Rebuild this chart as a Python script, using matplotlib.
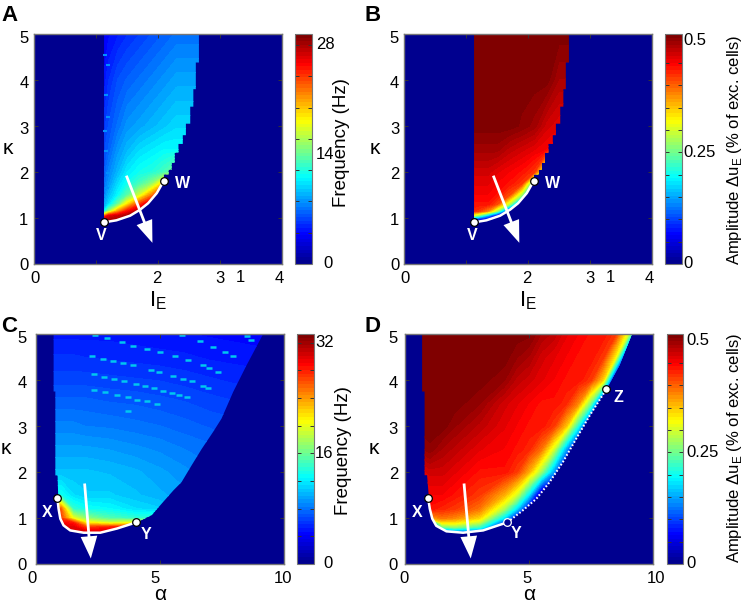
#!/usr/bin/env python3
import numpy as np
import matplotlib
matplotlib.use("Agg")
import matplotlib.pyplot as plt
from matplotlib.cm import ScalarMappable
from matplotlib.colors import LinearSegmentedColormap, Normalize
from matplotlib.patches import Polygon
from matplotlib.transforms import ScaledTranslation

plt.rcParams["font.family"] = ["Liberation Sans", "DejaVu Sans"]
plt.rcParams["mathtext.fontset"] = "custom"
plt.rcParams["mathtext.rm"] = "Liberation Sans"

W, H = 746, 604
NAVY = "#00008F"

# ---- panels A, B: grid of I_E and kappa
ab_I = [1.1, 1.2, 1.35, 1.5, 1.7, 1.9, 2.1, 2.3, 2.5, 2.7]
ab_k = [0.85, 0.95, 1.05, 1.15, 1.3, 1.5, 1.75, 2, 2.5, 3, 4, 5]

freq_a = [
    [28, 28, 28, 28, 28, 28, 28, 28, 28, 28],
    [28, 28, 28, 28, 28, 28, 28, 28, 28, 28],
    [20, 26, 27, 28, 28, 28, 28, 28, 28, 28],
    [9, 15, 21, 25, 28, 28, 28, 28, 28, 28],
    [8, 10, 14, 19, 24, 28, 28, 28, 28, 28],
    [7, 9, 11, 13.5, 17, 22, 27, 28, 28, 28],
    [6.5, 8, 10, 11.5, 13, 15, 20, 26, 28, 28],
    [6, 7.5, 9, 10.5, 11.5, 12, 13, 15, 18, 18],
    [5.5, 6.5, 8, 9, 10, 10.5, 11, 11, 11, 11],
    [5, 6, 7, 8, 8.5, 9, 9.5, 10, 10, 10],
    [4, 5, 6, 6.5, 7, 7.5, 8, 8.5, 8.5, 8.5],
    [3.5, 4, 4.5, 5, 5.5, 6, 6.5, 7, 7, 7],
]
amp_b = [
    [0, 0, 0, 0, 0, 0, 0, 0, 0, 0],
    [.05, .02, 0, 0, 0, 0, 0, 0, 0, 0],
    [.30, .25, .15, .03, 0, 0, 0, 0, 0, 0],
    [.43, .42, .38, .27, .03, 0, 0, 0, 0, 0],
    [.44, .44, .44, .41, .28, .05, 0, 0, 0, 0],
    [.45, .45, .45, .44, .41, .27, .02, 0, 0, 0],
    [.46, .46, .46, .45, .44, .42, .20, 0, 0, 0],
    [.47, .47, .47, .46, .45, .44, .42, .25, .2, .2],
    [.495, .495, .495, .495, .48, .47, .46, .45, .44, .44],
    [.512, .512, .512, .512, .512, .505, .495, .47, .46, .46],
    [.512, .512, .512, .512, .512, .512, .512, .512, .49, .49],
    [.512, .512, .512, .512, .512, .512, .512, .512, .512, .512],
]

# left edge, lower curve V-W, right stairs
ab_left = 1.13
vw_I = [1.13, 1.33, 1.55, 1.71, 1.84, 1.98, 2.09]
vw_k = [0.905, 0.95, 1.05, 1.18, 1.32, 1.54, 1.80]
step_I = [2.17, 2.22, 2.27, 2.33, 2.40, 2.45, 2.52, 2.57, 2.61, 2.66]
step_k = [2.05, 2.20, 2.42, 2.61, 2.80, 3.05, 3.42, 3.80, 4.38, 5.00]

speck_a_I = [1.15, 1.2, 1.16, 1.2, 1.15, 1.16, 1.2, 1.17]
speck_a_k = [4.54, 4.33, 3.68, 3.2, 2.9, 2.45, 1.98, 1.66]

# ---- panels C, D: grid of alpha and kappa
c_a = [0.6, 1, 1.5, 2, 3, 4, 5, 6, 7, 8, 9, 9.5]
cd_k = [0.6, 0.7, 0.8, 0.9, 1, 1.2, 1.5, 2, 2.5, 3, 3.5, 4, 4.5, 5]
d_a = [0.6, 1, 1.5, 2, 3, 4, 4.5, 5, 5.5, 6, 6.5, 7, 7.5, 8, 8.5, 9, 9.5]

freq_c = [
    [30, 30, 30, 31, 31, 30, 28, 20, 12, 10, 9, 9],
    [30, 30, 30, 30, 30, 30, 28, 20, 12, 10, 9, 9],
    [30, 30, 30, 27, 28, 28, 28, 18, 12, 10, 9, 9],
    [29, 29, 28, 21, 19, 20, 20, 14, 11, 10, 9, 9],
    [27, 27, 20, 17, 15, 14, 14, 11, 10, 9, 9, 9],
    [26, 26, 14, 13, 12.5, 11.5, 11, 10, 9, 9, 8, 8],
    [13, 13, 11.5, 11, 11, 10.5, 10, 9.5, 9, 8.5, 8, 8],
    [10.5, 10.5, 10.5, 10.5, 10.3, 10, 9.5, 9, 8.5, 8, 8, 8],
    [9.5, 9.5, 9.5, 9.5, 9.3, 9, 8.7, 8.3, 8, 7.5, 7.5, 7.5],
    [8.5, 8.5, 8.5, 8.3, 8.2, 8, 7.8, 7.5, 7.2, 7, 7, 7],
    [7.5, 7.5, 7.5, 7.5, 7.3, 7.2, 7, 6.8, 6.5, 6.3, 6.3, 6.3],
    [6.5, 6.5, 6.5, 6.5, 6.4, 6.3, 6.2, 6, 5.8, 5.6, 5.5, 5.5],
    [5.8, 5.8, 5.8, 5.7, 5.6, 5.5, 5.4, 5.3, 5.1, 5, 4.9, 4.9],
    [5, 5, 5, 5, 5, 4.9, 4.8, 4.7, 4.6, 4.5, 4.4, 4.4],
]
amp_d = [
    [.02, .02, .02, .02, .02, 0, 0, 0, 0, 0, 0, 0, 0, 0, 0, 0, 0],
    [0, 0, .08, .12, .10, 0, 0, 0, 0, 0, 0, 0, 0, 0, 0, 0, 0],
    [0, 0, .24, .26, .22, .03, 0, 0, 0, 0, 0, 0, 0, 0, 0, 0, 0],
    [0, .15, .33, .33, .29, .10, 0, 0, 0, 0, 0, 0, 0, 0, 0, 0, 0],
    [0, .36, .39, .38, .34, .18, .05, 0, 0, 0, 0, 0, 0, 0, 0, 0, 0],
    [.44, .44, .43, .42, .39, .28, .18, .04, 0, 0, 0, 0, 0, 0, 0, 0, 0],
    [.45, .45, .45, .44, .42, .36, .30, .18, 0, 0, 0, 0, 0, 0, 0, 0, 0],
    [.46, .47, .47, .46, .44, .44, .42, .36, .27, .14, 0, 0, 0, 0, 0, 0, 0],
    [.495, .505, .49, .48, .46, .45, .44, .43, .39, .30, .15, 0, 0, 0, 0, 0, 0],
    [.512, .512, .512, .50, .48, .46, .45, .44, .44, .42, .35, .20, 0, 0, 0, 0, 0],
    [.512, .512, .512, .512, .50, .47, .46, .45, .44, .44, .43, .38, .25, 0, 0, 0, 0],
    [.512, .512, .512, .512, .512, .50, .48, .47, .46, .45, .44, .44, .42, .34, 0, 0, 0],
    [.512, .512, .512, .512, .512, .512, .50, .49, .47, .46, .45, .44, .44, .42, .32, 0, 0],
    [.512, .512, .512, .512, .512, .512, .512, .51, .49, .48, .46, .45, .44, .44, .42, .30, .10],
]

c_edge_a = [0.71, 0.71, 0.78, 0.78, 0.87, 0.91, 0.98, 1.11, 1.38, 1.92, 2.59, 3.26, 4.05,
            4.66, 5.13, 5.54, 5.87, 6.27, 6.68, 7.14, 7.48, 7.95, 8.49, 9.16]
c_edge_k = [5.00, 3.75, 3.75, 1.93, 1.93, 1.20, 0.985, 0.84, 0.73, 0.68, 0.68, 0.77, 0.906,
            1.06, 1.35, 1.60, 1.78, 2.14, 2.50, 2.87, 3.16, 3.74, 4.32, 5.00]
d_edge_a = [0.69, 0.69, 0.79, 0.79, 0.89, 1.00, 1.10, 1.26, 1.67, 2.34, 3.15, 4.13,
            4.76, 5.30, 5.83, 6.37, 6.90, 7.45, 8.12, 8.65, 9.15]
d_edge_k = [5.00, 3.75, 3.75, 1.93, 1.93, 1.20, 0.985, 0.83, 0.71, 0.68, 0.73, 0.906,
            1.17, 1.42, 1.78, 2.22, 2.72, 3.23, 3.80, 4.32, 5.00]

xy_c_a = [0.86, 0.91, 0.98, 1.11, 1.38, 1.92, 2.59, 3.26, 4.05]
xy_c_k = [1.44, 1.20, 0.985, 0.84, 0.73, 0.68, 0.68, 0.77, 0.906]
xy_d_a = [0.93, 1.00, 1.10, 1.26, 1.67, 2.34, 3.15, 4.13]
xy_d_k = [1.44, 1.20, 0.985, 0.83, 0.71, 0.68, 0.73, 0.906]
yz_d_a = [4.13, 4.76, 5.30, 5.83, 6.37, 6.90, 7.45, 8.12]
yz_d_k = [0.906, 1.17, 1.42, 1.78, 2.22, 2.72, 3.23, 3.80]

speck_c_a = [2.39, 2.86, 3.46, 3.93, 4.46, 5.0, 5.6, 6.14, 6.74, 6.98, 7.35,
             5.87, 6.61, 7.14, 7.61, 7.95, 8.49, 8.65,
             2.25, 2.72, 3.1, 3.5, 3.93, 4.62, 4.97, 5.54, 5.94, 6.31, 6.74, 6.94,
             2.32, 2.75, 3.15, 3.55, 4.03, 4.4, 4.77, 5.11, 5.5, 5.78, 6.07,
             2.32, 2.79, 3.26, 3.69, 4.09, 4.46, 4.89, 3.69]
speck_c_k = [4.97, 4.91, 4.83, 4.75, 4.67, 4.61, 4.52, 4.43, 4.33, 4.27, 4.17,
             4.97, 4.84, 4.72, 4.61, 4.52, 4.95, 4.86,
             4.52, 4.46, 4.42, 4.36, 4.32, 4.21, 4.17, 4.09, 4.03, 3.98, 3.88, 3.83,
             4.12, 4.06, 4.03, 3.97, 3.92, 3.87, 3.83, 3.77, 3.72, 3.68, 3.63,
             3.78, 3.73, 3.67, 3.63, 3.57, 3.54, 3.47, 3.33]

# colorbars
cbar_max = [29.4, 0.515, 33.25, 0.515]
cbar_ticks = [list(range(4, 29, 4)), [.05, .10, .15, .20, .25, .30, .35, .40, .45],
              list(range(4, 33, 4)), [.05, .10, .15, .20, .25, .30, .35, .40, .45]]
cbar_labels = [["0", "14", "28"], ["0", "0.25", "0.5"], ["0", "16", "32"], ["0", "0.25", "0.5"]]
cbar_label_pos = [[0, 14, 28], [0, .25, .5], [0, 16, 32], [0, .25, .5]]
cbar_label_gap = [[11, 4, 4], [1, 1, 1], [9, 1, 1], [3, 3, 3]]
cbar_titles = ["Frequency (Hz)", "Amplitude Δu$_{\\mathrm{E}}$ (% of exc. cells)"]

jet64 = LinearSegmentedColormap.from_list(
    "jet64",
    [(0, (0, 0, .5625)), (1 / 8, (0, 0, 1)), (3 / 8, (0, 1, 1)),
     (5 / 8, (1, 1, 0)), (7 / 8, (1, 0, 0)), (1, (.5, 0, 0))],
    N=64,
)


def axes_px(fig, x0, y0, x1, y1):
    return fig.add_axes([x0 / W, 1 - y1 / H, (x1 - x0) / W, (y1 - y0) / H])


def stair_edge():
    xs, ks = [vw_I[-1]], [vw_k[-1]]
    k_prev = 1.95
    xs.append(vw_I[-1]); ks.append(k_prev)
    for x, k in zip(step_I, step_k):
        xs += [x, x]
        ks += [k_prev, k]
        k_prev = k
    return xs, ks


def draw_map(ax, x, y, z, vmax, edge):
    ax.set_facecolor(NAVY)
    levels = np.linspace(0, vmax, 65)
    cs = ax.contourf(x, y, z, levels=levels, cmap=jet64, extend="both")
    clip = Polygon(edge, closed=True, transform=ax.transData, fc="none", ec="none")
    ax.add_patch(clip)
    cs.set_clip_path(clip)


def style_axes(ax, fig, xlim, xticks, xticklabels, xshift, pad):
    ax.set_xlim(*xlim)
    ax.set_ylim(0, 5)
    ax.set_xticks(xticks)
    ax.set_xticklabels(xticklabels)
    ax.set_yticks(range(6))
    ax.tick_params(direction="in", length=3, width=0.7, color="#333333", labelsize=12,
                   top=True, right=True)
    ax.tick_params(axis="x", pad=5)
    ax.tick_params(axis="y", pad=pad)
    for s in ax.spines.values():
        s.set_color("#777777")
        s.set_linewidth(1.0)
    # hand placed labels in the original sit a little off their ticks
    for lab, dx in zip(ax.get_xticklabels(), xshift):
        lab.set_transform(lab.get_transform() + ScaledTranslation(dx / 100, 0, fig.dpi_scale_trans))
    for k, lab in enumerate(ax.get_yticklabels()):
        lab.set_transform(lab.get_transform() + ScaledTranslation(0, -0.6 * k / 100, fig.dpi_scale_trans))


def stray_one(ax):
    ax.text(3.33, -13 / 230, "1", transform=ax.get_xaxis_transform(), fontsize=12, ha="center", va="center")


def add_colorbar(fig, box, i):
    cax = axes_px(fig, *box)
    cb = fig.colorbar(ScalarMappable(Normalize(0, cbar_max[i]), jet64), cax=cax)
    cb.outline.set_edgecolor("#777777")
    cax.set_yticks(cbar_ticks[i])
    cax.set_yticklabels([])
    cax.tick_params(direction="in", length=3, width=0.7, color="#333333", left=True, right=True)
    for p, lab, gap in zip(cbar_label_pos[i], cbar_labels[i], cbar_label_gap[i]):
        cax.annotate(lab, xy=(1, p / cbar_max[i]), xycoords="axes fraction", xytext=(gap * 0.72, 0),
                     textcoords="offset points", fontsize=12, va="center", ha="left", annotation_clip=False)


def arrow(ax, tail, tip):
    ax.annotate("", xy=tip, xytext=tail, annotation_clip=False,
                arrowprops=dict(facecolor="white", edgecolor="white", width=2.0,
                                headwidth=12, headlength=16, shrink=0, lw=0))


def dots(ax, xs, ys, **kw):
    style = dict(marker="o", ms=5.5, mfc="white", mec="black", mew=0.9, ls="none", zorder=6)
    style.update(kw)
    ax.plot(xs, ys, **style)


def labels(ax, items):
    for name, x, y in items:
        ax.text(x, y, name, color="white", fontsize=11.5, fontweight="bold", ha="center", va="center")


def main():
    fig = plt.figure(figsize=(W / 100, H / 100), dpi=100)

    # A
    ax = axes_px(fig, 34, 34, 282, 264)
    sx, sk = stair_edge()
    edge_ab = list(zip(vw_I + sx + [ab_left], vw_k + sk + [5.0]))
    draw_map(ax, ab_I, ab_k, freq_a, cbar_max[0], edge_ab)
    ax.plot(speck_a_I, speck_a_k, "_", ms=3, mew=1.5, color="#0090FF")
    ax.plot(vw_I, vw_k, color="white", lw=1.8)
    dots(ax, [vw_I[0], vw_I[-1]], [vw_k[0], vw_k[-1]])
    arrow(ax, (1.49, 1.92), (1.91, 0.46))
    labels(ax, [("V", 1.09, 0.62), ("W", 2.39, 1.76)])
    style_axes(ax, fig, (0, 4), [0, 1, 2, 3, 4], ["0", "", "2", "3", "4"], [1, 0, -1, 0, -3], 4)
    stray_one(ax)
    add_colorbar(fig, (295, 34, 312, 264), 0)

    # B
    ax = axes_px(fig, 404, 34, 652, 264)
    draw_map(ax, ab_I, ab_k, amp_b, cbar_max[1], edge_ab)
    ax.plot(vw_I, vw_k, color="white", lw=1.8)
    dots(ax, [vw_I[0], vw_I[-1]], [vw_k[0], vw_k[-1]])
    arrow(ax, (1.44, 1.92), (1.86, 0.46))
    labels(ax, [("V", 1.10, 0.62), ("W", 2.40, 1.76)])
    style_axes(ax, fig, (0, 4), [0, 1, 2, 3, 4], ["0", "", "2", "3", "4"], [1, 0, -1, 0, -3], 3.5)
    stray_one(ax)
    add_colorbar(fig, (665, 34, 682, 264), 1)

    # C
    ax = axes_px(fig, 36, 334, 284, 564)
    draw_map(ax, c_a, cd_k, freq_c, cbar_max[2], list(zip(c_edge_a, c_edge_k)))
    ax.plot(speck_c_a, speck_c_k, "_", ms=5, mew=1.8, color="#00C8F0")
    ax.plot(xy_c_a, xy_c_k, color="white", lw=1.8)
    dots(ax, [xy_c_a[0], xy_c_a[-1]], [xy_c_k[0], xy_c_k[-1]])
    arrow(ax, (1.96, 1.75), (2.21, 0.12))
    labels(ax, [("X", 0.45, 1.12), ("Y", 4.42, 0.65)])
    style_axes(ax, fig, (0, 10), [0, 5, 10], ["0", "5", "10"], [-4, -5, -1], 6.5)
    add_colorbar(fig, (297, 334, 314, 564), 2)

    # D
    ax = axes_px(fig, 405, 334, 653, 564)
    draw_map(ax, d_a, cd_k, amp_d, cbar_max[3], list(zip(d_edge_a, d_edge_k)))
    ax.plot(xy_d_a, xy_d_k, color="white", lw=1.8)
    ax.plot(yz_d_a, yz_d_k, color="white", lw=1.5, ls=(0, (0.8, 1.0)))
    dots(ax, [xy_d_a[0], yz_d_a[-1]], [xy_d_k[0], yz_d_k[-1]])
    dots(ax, [xy_d_a[-1]], [xy_d_k[-1]], mfc=NAVY, mec="white")
    arrow(ax, (2.38, 1.75), (2.65, 0.12))
    labels(ax, [("X", 0.5, 1.12), ("Y", 4.48, 0.66), ("Z", 8.62, 3.62)])
    style_axes(ax, fig, (0, 10), [0, 5, 10], ["0", "5", "10"], [-1, -2, 3], 5)
    add_colorbar(fig, (667, 334, 683, 564), 3)

    # axis titles and panel letters, placed in figure pixels
    for x, y in [(158, 301), (528, 301)]:
        fig.text(x / W, 1 - y / H, "I$_{\\mathrm{E}}$", fontsize=16, ha="center", va="center")
    for x, y in [(160, 595), (529, 595)]:
        fig.text(x / W, 1 - y / H, "α", fontsize=15, ha="center", va="center")
    for x, y in [(8, 149), (375, 149), (6, 449), (374, 449)]:
        fig.text(x / W, 1 - y / H, "κ", fontsize=15, ha="center", va="center")
    for x, y in [(342, 143), (344, 451)]:
        fig.text(x / W, 1 - y / H, cbar_titles[0], fontsize=13.5, rotation=90, ha="center", va="center")
    for x, y in [(735, 150), (735, 448)]:
        fig.text(x / W, 1 - y / H, cbar_titles[1], fontsize=12, rotation=90, ha="center", va="center")
    for x, y, name in [(1, 21, "A"), (365, 21, "B"), (1, 332, "C"), (365, 332, "D")]:
        fig.text(x / W, 1 - y / H, name, fontsize=16, fontweight="bold", ha="left", va="baseline")

    fig.savefig("out.png", dpi=100)
    plt.close(fig)


if __name__ == "__main__":
    main()
